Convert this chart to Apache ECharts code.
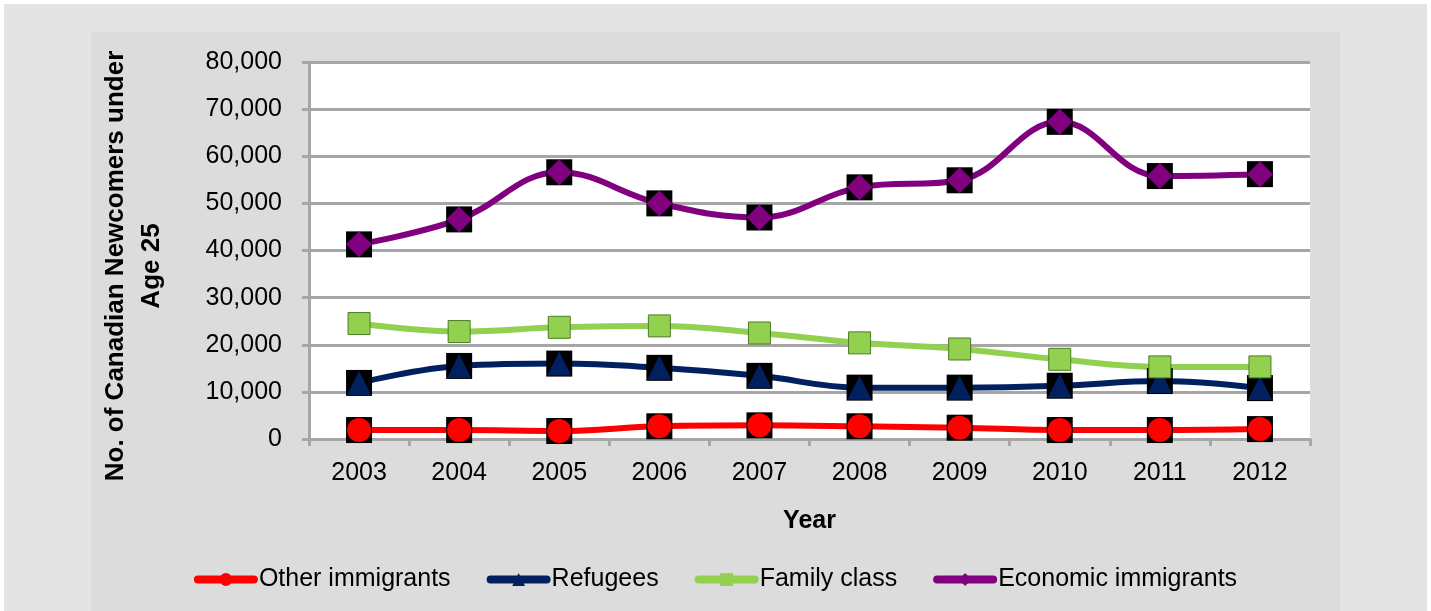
<!DOCTYPE html>
<html>
<head>
<meta charset="utf-8">
<script src="https://cdn.jsdelivr.net/npm/echarts@6/dist/echarts.min.js"></script>
<style>
  html, body { margin: 0; padding: 0; background: #ffffff; }
  #outer { position: absolute; left: 4px; top: 4px; width: 1423px; height: 607px; background: #e4e4e4; }
  #inner { position: absolute; left: 91px; top: 32px; width: 1249px; height: 579px; background: #dcdcdc; }
  #chart { position: absolute; left: 0; top: 0; width: 1431px; height: 611px; }
</style>
</head>
<body>
<div id="outer"></div>
<div id="inner"></div>
<div id="chart"></div>
<script>
const years = ['2003', '2004', '2005', '2006', '2007', '2008', '2009', '2010', '2011', '2012'];
const otherImmigrants = [1900, 1900, 1700, 2700, 2900, 2700, 2400, 1900, 1900, 2100];
const refugees = [11900, 15500, 16000, 15100, 13400, 10900, 10900, 11300, 12300, 10800];
const familyClass = [24500, 22800, 23700, 24000, 22500, 20400, 19100, 16900, 15300, 15300];
const economicImmigrants = [41300, 46600, 56600, 50000, 47000, 53400, 54900, 67300, 55800, 56200];
const yTicks = { min: 0, max: 80000, interval: 10000 };
const seriesNames = ['Other immigrants', 'Refugees', 'Family class', 'Economic immigrants'];

const FONT = '"Liberation Sans", Arial, sans-serif';
const GRAY = '#a6a6a6';

const defs = [
  { name: seriesNames[0], data: otherImmigrants, color: '#ff0000', symbol: 'circle', size: 24, back: true },
  { name: seriesNames[1], data: refugees, color: '#002060', symbol: 'triangle', size: 24, back: true },
  { name: seriesNames[2], data: familyClass, color: '#92d050', symbol: 'rect', size: 22, back: false, border: '#4f7a28' },
  { name: seriesNames[3], data: economicImmigrants, color: '#800080', symbol: 'diamond', size: 26, back: true }
];

const series = [];
defs.forEach(function (d) {
  series.push({
    name: d.name,
    type: 'line',
    data: d.data,
    smooth: 0.4,
    showSymbol: false,
    symbol: d.symbol,
    symbolSize: 14,
    z: 2,
    lineStyle: { color: d.color, width: 6 },
    itemStyle: { color: d.color },
    emphasis: { disabled: true },
    silent: true
  });
});
defs.forEach(function (d, i) {
  if (d.back) {
    series.push({
      name: d.name + ' bg',
      type: 'scatter',
      data: d.data,
      symbol: 'rect',
      symbolSize: 26,
      z: 3 + i * 2,
      itemStyle: { color: '#000000', opacity: 1 },
      emphasis: { disabled: true },
      silent: true
    });
  }
  series.push({
    name: d.name + ' mk',
    type: 'scatter',
    data: d.data,
    symbol: d.symbol,
    symbolSize: d.size,
    z: 4 + i * 2,
    itemStyle: { color: d.color, opacity: 1, borderColor: d.border || d.color, borderWidth: d.border ? 1 : 0 },
    emphasis: { disabled: true },
    silent: true
  });
});

const chart = echarts.init(document.getElementById('chart'), null, { renderer: 'canvas' });
chart.setOption({
  animation: false,
  backgroundColor: 'transparent',
  grid: {
    left: 309, right: 121, top: 62, bottom: 172,
    show: true, backgroundColor: '#ffffff', borderWidth: 0
  },
  legend: {
    data: seriesNames,
    left: 'center',
    top: 562,
    itemWidth: 56,
    itemHeight: 16,
    itemGap: 36,
    lineStyle: { width: 8, cap: 'round' },
    textStyle: { fontFamily: FONT, fontSize: 25, color: '#000000' },
    selectedMode: false
  },
  xAxis: {
    type: 'category',
    data: years,
    boundaryGap: true,
    name: 'Year',
    nameLocation: 'middle',
    nameGap: 70,
    nameTextStyle: { fontFamily: FONT, fontSize: 25, fontWeight: 'bold', color: '#000000' },
    axisLine: { show: true, lineStyle: { color: GRAY, width: 3 } },
    axisTick: { show: true, alignWithLabel: false, length: 7, lineStyle: { color: GRAY, width: 3 } },
    axisLabel: { fontFamily: FONT, fontSize: 25, color: '#000000', margin: 22 },
    splitLine: { show: false }
  },
  yAxis: {
    type: 'value',
    min: yTicks.min, max: yTicks.max, interval: yTicks.interval,
    axisLine: { show: true, lineStyle: { color: GRAY, width: 3 } },
    axisTick: { show: true, length: 7, lineStyle: { color: GRAY, width: 3 } },
    axisLabel: {
      fontFamily: FONT, fontSize: 25, color: '#000000', margin: 27,
      formatter: function (v) { return v.toLocaleString('en-US'); }
    },
    splitLine: { show: true, lineStyle: { color: GRAY, width: 3 } }
  },
  graphic: [{
    type: 'text',
    x: 134,
    y: 266,
    rotation: Math.PI / 2,
    style: {
      text: 'No. of Canadian Newcomers under\nAge 25',
      fontFamily: FONT, fontSize: 26, fontWeight: 'bold', fill: '#000000',
      textAlign: 'center', textVerticalAlign: 'middle', lineHeight: 36
    }
  }],
  series: series
});
</script>
</body>
</html>
